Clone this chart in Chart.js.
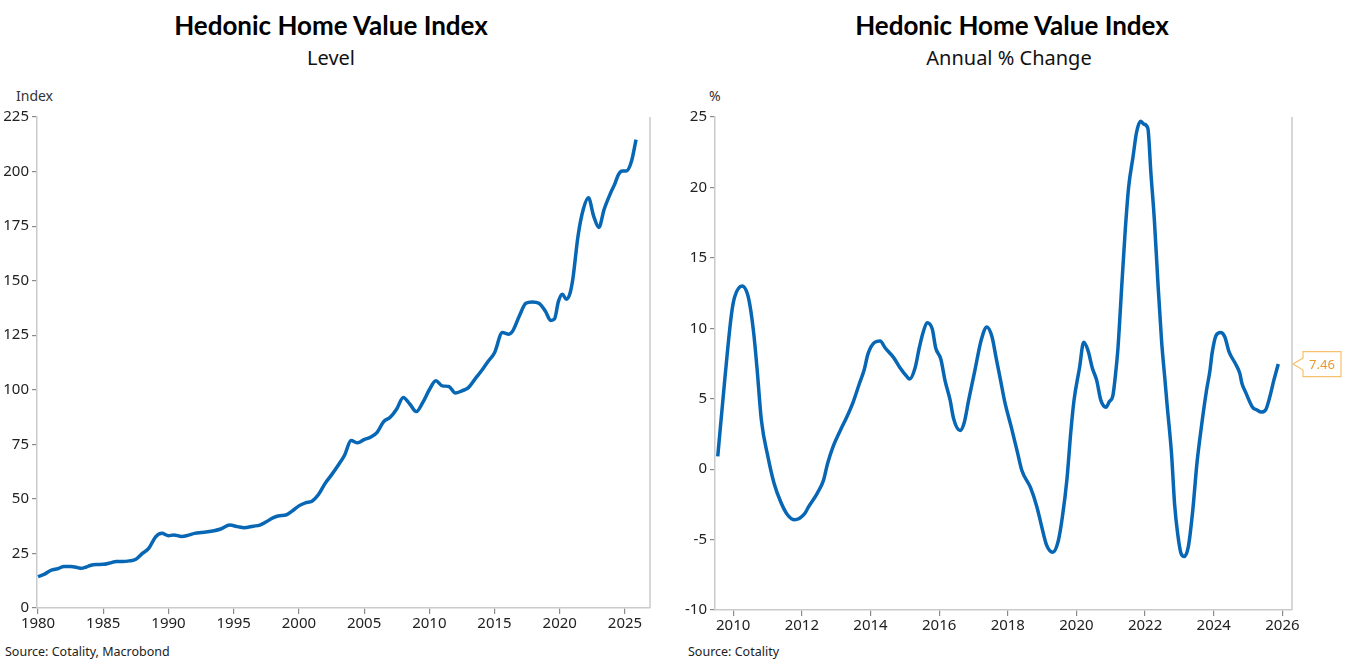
<!DOCTYPE html>
<html>
<head>
<meta charset="utf-8">
<script src="https://cdn.jsdelivr.net/npm/chart.js@4.4.1/dist/chart.umd.min.js"></script>
<style>
  body { margin: 0; background: #fff; width: 1348px; height: 668px; overflow: hidden; position: relative; font-family: "Noto Sans", sans-serif; }
  .title { position: absolute; top: 9px; width: 674px; text-align: center; font-family: Lato, sans-serif; font-weight: bold; font-size: 26px; color: #000; }
  .sub { position: absolute; top: 44px; width: 674px; text-align: center; font-family: "Noto Sans", sans-serif; font-size: 20px; color: #111; }
  .unit { position: absolute; top: 86px; font-size: 14px; color: #333; }
  .src { position: absolute; top: 643px; font-size: 12.5px; color: #222; }
  .box { position: absolute; top: 100px; width: 674px; height: 560px; }
</style>
</head>
<body>
<div class="title" style="left:-6px">Hedonic Home Value Index</div>
<div class="sub" style="left:-6px">Level</div>
<div class="title" style="left:675px">Hedonic Home Value Index</div>
<div class="sub" style="left:672px">Annual % Change</div>
<div class="unit" style="left:16px">Index</div>
<div class="unit" style="left:709px">%</div>
<div class="src" style="left:5px">Source: Cotality, Macrobond</div>
<div class="src" style="left:688px">Source: Cotality</div>
<div class="box" style="left:0"><canvas id="level"></canvas></div>
<div class="box" style="left:674px"><canvas id="change"></canvas></div>
<script>
// level index
const levelYears = [1980.0, 1980.5, 1981.0, 1981.5, 1982.0, 1982.5, 1983.0, 1983.3, 1983.7, 1984.0,
  1984.5, 1985.0, 1985.5, 1986.0, 1986.5, 1987.0, 1987.5, 1988.0, 1988.5, 1989.0,
  1989.5, 1990.0, 1990.4, 1991.0, 1991.5, 1992.0, 1992.5, 1993.0, 1993.5, 1994.0,
  1994.7, 1995.3, 1995.8, 1996.5, 1997.0, 1997.5, 1998.0, 1998.5, 1999.0, 1999.5,
  2000.0, 2000.5, 2001.0, 2001.5, 2002.0, 2002.5, 2003.0, 2003.5, 2004.0, 2004.5,
  2005.0, 2005.5, 2006.0, 2006.5, 2007.0, 2007.5, 2008.0, 2008.5, 2009.0, 2009.5,
  2010.0, 2010.5, 2011.0, 2011.5, 2012.0, 2012.5, 2013.0, 2013.5, 2014.0, 2014.5,
  2015.0, 2015.6, 2016.1, 2016.4, 2016.9, 2017.4, 2017.9, 2018.4, 2018.9, 2019.3,
  2019.6, 2019.9, 2020.2, 2020.5, 2020.8, 2021.0, 2021.4, 2021.8, 2022.2, 2022.6,
  2023.0, 2023.4, 2023.9, 2024.2, 2024.5, 2024.8, 2025.1, 2025.5, 2025.85];
const levelValues = [14.4, 15.5, 17.3, 18.0, 19.0, 19.0, 18.6, 18.2, 18.8, 19.5,
  19.9, 20.0, 20.6, 21.3, 21.3, 21.6, 22.3, 25.0, 27.4, 32.5,
  34.2, 33.1, 33.5, 32.8, 33.3, 34.2, 34.6, 34.9, 35.4, 36.2,
  38.0, 37.3, 36.8, 37.5, 38.0, 39.5, 41.3, 42.3, 42.6, 44.5,
  46.8, 48.2, 48.9, 52.0, 57.0, 61.0, 65.3, 70.0, 76.7, 75.7,
  77.2, 78.3, 80.5, 85.4, 87.4, 91.2, 96.5, 93.5, 90.0, 94.2,
  100.0, 104.1, 101.8, 101.5, 98.5, 99.5, 101.0, 104.9, 108.7, 113.0,
  117.0, 126.2, 125.5, 127.0, 133.8, 139.6, 140.2, 139.6, 136.0, 131.8,
  132.5, 140.5, 143.8, 141.5, 144.5, 150.6, 170.4, 182.6, 188.0, 179.6,
  174.4, 182.6, 190.2, 194.0, 198.6, 200.2, 200.2, 204.7, 214.6];
const levelXTicks = [1980, 1985, 1990, 1995, 2000, 2005, 2010, 2015, 2020, 2025];
const levelYTicks = [0, 25, 50, 75, 100, 125, 150, 175, 200, 225];

// annual % change
const changeYears = [2009.55, 2009.76, 2009.95, 2010.04, 2010.26, 2010.42, 2010.51, 2010.6, 2010.7, 2010.82,
  2011.01, 2011.19, 2011.38, 2011.57, 2011.79, 2012.07, 2012.19, 2012.44, 2012.63, 2012.75,
  2012.91, 2013.12, 2013.31, 2013.5, 2013.68, 2013.81, 2013.93, 2014.12, 2014.28, 2014.43,
  2014.68, 2014.86, 2015.05, 2015.14, 2015.3, 2015.42, 2015.52, 2015.65, 2015.8, 2015.9,
  2016.05, 2016.17, 2016.32, 2016.42, 2016.61, 2016.73, 2016.86, 2017.04, 2017.23, 2017.39,
  2017.54, 2017.66, 2017.79, 2017.91, 2018.1, 2018.29, 2018.41, 2018.66, 2018.85, 2018.97,
  2019.13, 2019.31, 2019.47, 2019.59, 2019.72, 2019.84, 2019.93, 2020.09, 2020.21, 2020.34,
  2020.46, 2020.59, 2020.71, 2020.86, 2020.96, 2021.06, 2021.15, 2021.21, 2021.33, 2021.42,
  2021.52, 2021.65, 2021.75, 2021.87, 2021.96, 2022.08, 2022.17, 2022.27, 2022.37, 2022.48,
  2022.58, 2022.64, 2022.77, 2022.86, 2022.95, 2023.05, 2023.14, 2023.26, 2023.39, 2023.51,
  2023.64, 2023.79, 2023.89, 2023.95, 2024.07, 2024.2, 2024.32, 2024.45, 2024.63, 2024.76,
  2024.82, 2024.94, 2025.13, 2025.26, 2025.38, 2025.51, 2025.63, 2025.75, 2025.88];
const changeValues = [0.9, 6.5, 11.0, 12.2, 13.0, 12.4, 11.3, 9.6, 7.0, 3.5,
  0.9, -1.0, -2.3, -3.2, -3.6, -3.2, -2.7, -1.75, -0.8, 0.4,
  1.6, 2.75, 3.7, 4.8, 6.1, 7.0, 8.2, 9.0, 9.1, 8.6,
  7.9, 7.2, 6.6, 6.4, 7.2, 8.6, 9.6, 10.4, 9.95, 8.6,
  7.8, 6.3, 4.9, 3.6, 2.75, 3.3, 4.9, 7.0, 9.2, 10.1,
  9.4, 7.9, 6.3, 4.8, 3.0, 1.1, -0.1, -1.3, -2.7, -3.9,
  -5.4, -5.9, -5.1, -3.4, -0.8, 2.75, 4.9, 7.2, 9.0, 8.4,
  7.2, 6.3, 4.9, 4.4, 4.8, 5.2, 7.0, 8.6, 13.4, 16.9,
  20.0, 22.2, 23.9, 24.7, 24.5, 24.2, 21.0, 17.7, 13.4, 9.1,
  6.3, 4.6, 1.1, -2.5, -4.6, -6.0, -6.2, -5.5, -2.9, 0.4,
  3.0, 5.6, 7.0, 8.2, 9.5, 9.7, 9.4, 8.3, 7.5, 6.8,
  6.1, 5.4, 4.4, 4.2, 4.05, 4.2, 5.1, 6.3, 7.46];
const changeXTicks = [2010, 2012, 2014, 2016, 2018, 2020, 2022, 2024, 2026];
const changeYTicks = [-10, -5, 0, 5, 10, 15, 20, 25];

const lineBlue = '#0767b4';
const axisGrey = '#cacaca';
const tickFont = { family: 'Noto Sans', size: 15 };

// right-hand frame line that Chart.js does not draw by itself
const rightFrame = {
  id: 'rightFrame',
  afterDraw(chart) {
    const { ctx, chartArea } = chart;
    ctx.save();
    ctx.strokeStyle = axisGrey;
    ctx.lineWidth = 1.5;
    ctx.beginPath();
    ctx.moveTo(chartArea.right, chartArea.top);
    ctx.lineTo(chartArea.right, chartArea.bottom);
    ctx.stroke();
    ctx.restore();
  }
};

// callout with the latest value
const lastLabel = {
  id: 'lastLabel',
  afterDraw(chart) {
    const data = chart.data.datasets[0].data;
    const last = data[data.length - 1];
    const { ctx, chartArea } = chart;
    const y = chart.scales.y.getPixelForValue(last.y);
    const tip = chartArea.right + 1;
    const left = tip + 10, w = 38, h = 25;
    ctx.save();
    ctx.fillStyle = '#fff';
    ctx.strokeStyle = '#f6c06c';
    ctx.lineWidth = 1.2;
    ctx.beginPath();
    ctx.moveTo(tip, y);
    ctx.lineTo(left, y - 6);
    ctx.lineTo(left, y - h / 2);
    ctx.lineTo(left + w, y - h / 2);
    ctx.lineTo(left + w, y + h / 2);
    ctx.lineTo(left, y + h / 2);
    ctx.lineTo(left, y + 6);
    ctx.closePath();
    ctx.fill();
    ctx.stroke();
    ctx.fillStyle = '#e8982e';
    ctx.font = '13px "Noto Sans"';
    ctx.textAlign = 'center';
    ctx.textBaseline = 'middle';
    ctx.fillText(last.y.toFixed(2), left + w / 2, y + 1);
    ctx.restore();
  }
};

function makeChart(id, years, values, xTicks, yTicks, xMin, xMax, yAxisWidth, pad, extra) {
  const points = years.map((x, i) => ({ x: x, y: values[i] }));
  return new Chart(document.getElementById(id), {
    type: 'line',
    data: {
      datasets: [{
        data: points,
        borderColor: lineBlue,
        borderWidth: 3.5,
        pointRadius: 0,
        cubicInterpolationMode: 'monotone',
        fill: false
      }]
    },
    options: {
      responsive: true,
      maintainAspectRatio: false,
      animation: false,
      layout: { padding: pad },
      plugins: { legend: { display: false }, tooltip: { enabled: false } },
      scales: {
        x: {
          type: 'linear',
          min: xMin,
          max: xMax,
          afterBuildTicks: s => { s.ticks = xTicks.map(v => ({ value: v })); },
          afterFit: s => { s.height = 32; },
          ticks: { color: '#222', font: tickFont, padding: 1, maxRotation: 0, autoSkip: false, callback: v => String(v) },
          grid: { display: true, drawOnChartArea: false, drawTicks: true, tickLength: 6, color: '#8a8a8a', lineWidth: 1.2 },
          border: { display: true, color: axisGrey, width: 1.5 }
        },
        y: {
          min: yTicks[0],
          max: yTicks[yTicks.length - 1],
          afterBuildTicks: s => { s.ticks = yTicks.map(v => ({ value: v })); },
          afterFit: s => { s.width = yAxisWidth; },
          ticks: { color: '#222', font: tickFont, padding: 3, autoSkip: false },
          grid: { display: true, drawOnChartArea: false, drawTicks: true, tickLength: 5, color: '#8a8a8a', lineWidth: 1.2 },
          border: { display: true, color: axisGrey, width: 1.5 }
        }
      }
    },
    plugins: [rightFrame].concat(extra)
  });
}

makeChart('level', levelYears, levelValues, levelXTicks, levelYTicks,
  1979.92, 2026.92, 37, { top: 17, right: 24, bottom: 20, left: 0 }, []);
makeChart('change', changeYears, changeValues, changeXTicks, changeYTicks,
  2009.47, 2026.28, 41, { top: 17, right: 56, bottom: 18, left: 0 }, [lastLabel]);
</script>
</body>
</html>
